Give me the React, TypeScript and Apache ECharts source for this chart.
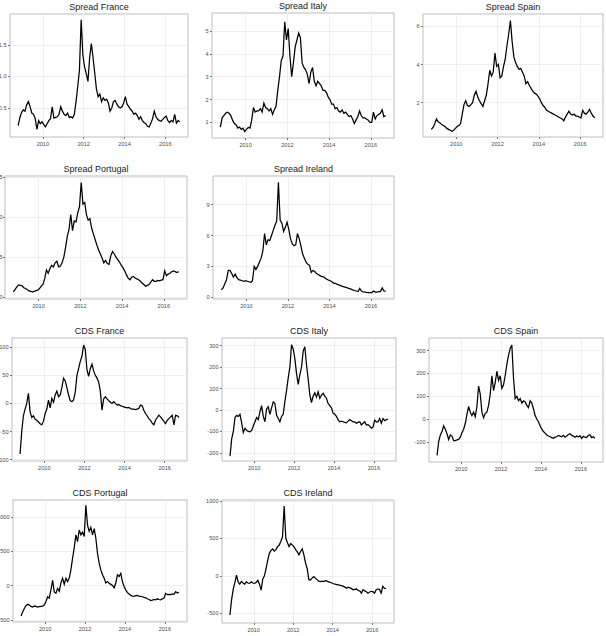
import React, { useEffect, useRef } from "react";
import * as echarts from "echarts";

// Monthly observations, Oct 2008 .. Sep 2016 (96 months)
const START_YEAR = 2008;
const START_MONTH = 10;
const xTicks = [2010, 2012, 2014, 2016];

const spreadFrance = [
  0.22, 0.35, 0.43,
  0.47, 0.45, 0.55, 0.6, 0.52, 0.42, 0.4, 0.33, 0.16, 0.3, 0.25, 0.28,
  0.24, 0.2, 0.25, 0.3, 0.33, 0.52, 0.34, 0.35, 0.36, 0.4, 0.52, 0.45,
  0.4, 0.38, 0.42, 0.35, 0.36, 0.34, 0.4, 0.6, 0.84, 1.1, 1.9, 1.35,
  1.15, 1.05, 0.92, 1.3, 1.52, 1.3, 1.05, 0.8, 0.68, 0.72, 0.6, 0.66,
  0.62, 0.64, 0.58, 0.45, 0.5, 0.6, 0.62, 0.56, 0.52, 0.5, 0.52, 0.58,
  0.68, 0.56, 0.52, 0.48, 0.45, 0.4, 0.42, 0.38, 0.32, 0.36, 0.3, 0.27,
  0.25, 0.21, 0.2, 0.26, 0.33, 0.45, 0.36, 0.32, 0.3, 0.29, 0.32, 0.35,
  0.37, 0.3, 0.27, 0.3, 0.28, 0.4, 0.26, 0.3, 0.28,
];
const spreadItaly = [
  0.8, 1.2, 1.3,
  1.4, 1.45, 1.4, 1.3, 1.1, 0.95, 0.9, 0.75, 0.8, 0.7, 0.75, 0.6,
  0.7, 0.78, 0.75, 1.1, 1.65, 1.45, 1.5, 1.5, 1.6, 1.45, 1.85, 1.65,
  1.6, 1.5, 1.6, 1.35, 1.55, 1.7, 2.4, 3.0, 3.7, 3.9, 5.4, 4.6,
  5.1, 3.9, 3.0, 3.6, 4.3, 4.6, 4.9, 4.7, 3.6, 3.4, 3.3, 3.1,
  2.7, 3.2, 3.4, 2.8, 2.6, 2.8, 2.7, 2.6, 2.4, 2.4, 2.3, 2.1,
  2.0, 1.8, 1.8, 1.6, 1.65, 1.5, 1.45, 1.55, 1.4, 1.45, 1.35, 1.25,
  1.3, 1.15, 0.95, 1.1, 1.25, 1.5, 1.3, 1.2, 1.2, 1.15, 1.1, 1.0,
  1.0, 1.45, 1.15, 1.3, 1.35, 1.4, 1.55, 1.25, 1.3,
];
const spreadSpain = [
  0.6, 0.7, 0.9,
  1.15, 1.0, 0.95, 0.85, 0.8, 0.75, 0.65, 0.6, 0.55, 0.5, 0.55, 0.65,
  0.75, 0.8, 0.9, 1.4, 1.9, 2.1, 1.85, 1.8, 1.9, 2.0, 2.4, 2.6,
  2.3, 2.1, 1.95, 1.8, 2.1, 2.4, 3.0, 3.7, 3.4, 3.6, 4.6, 3.9,
  4.0, 3.3, 3.4, 3.9, 4.3, 5.0, 5.6, 6.3, 5.2, 4.4, 4.1, 3.9,
  3.75, 3.8, 3.6, 3.4, 3.0, 3.1, 2.9, 2.75, 2.6, 2.5, 2.45, 2.35,
  2.2, 2.0, 1.85, 1.75, 1.6, 1.55, 1.5, 1.45, 1.4, 1.35, 1.3, 1.25,
  1.2, 1.15, 1.05, 1.25, 1.4, 1.55, 1.4, 1.35, 1.4, 1.3, 1.3, 1.25,
  1.2, 1.6, 1.45, 1.4, 1.5, 1.65, 1.45, 1.3, 1.2,
];
const spreadPortugal = [
  0.7, 1.0, 1.3,
  1.55, 1.5, 1.45, 1.2, 1.1, 0.95, 0.8, 0.75, 0.7, 0.75, 0.85, 0.9,
  1.1, 1.4, 1.6, 2.3, 3.4, 3.0, 3.6, 4.0, 3.8, 4.3, 4.5, 3.8,
  3.9, 4.3, 5.0, 6.2, 7.6, 8.5, 10.3, 8.3, 9.5, 9.4, 10.5, 11.3,
  14.3, 11.6, 11.8, 10.3, 9.6, 9.8, 8.6, 7.9, 7.2, 6.5, 5.9, 5.4,
  4.9, 4.3, 4.6, 4.2, 4.1, 5.2, 5.7, 5.4, 5.0, 4.7, 4.4, 4.0,
  3.7, 3.3, 2.8, 2.4, 2.2, 2.5, 2.6, 2.4, 2.3, 2.2, 2.0, 1.8,
  1.6, 1.4, 1.5, 1.6, 1.9, 2.2, 2.0, 2.0, 2.1, 2.05, 2.15, 2.2,
  3.3, 2.7, 2.9, 3.0, 3.2, 3.3, 3.2, 3.1, 3.2,
];
const spreadIreland = [
  0.7, 0.9, 1.3,
  1.7, 2.6, 2.6, 2.3, 1.95, 2.25, 1.9, 1.7, 1.65, 1.6, 1.55, 1.6,
  1.55, 1.5, 1.45, 1.6, 3.0, 2.7, 3.0, 3.4, 3.8, 4.5, 6.2, 5.1,
  5.6, 5.5, 6.0, 6.5, 7.0, 7.4, 11.2, 7.5, 7.2, 6.4, 6.8, 7.3,
  6.6, 5.7, 5.2, 5.0, 5.1, 6.2, 5.7, 5.0, 4.2, 3.8, 3.4, 3.2,
  3.1, 2.4, 2.6, 2.5, 2.3, 2.2, 2.1, 2.0, 2.0, 1.85, 1.75, 1.65,
  1.6, 1.5, 1.35, 1.35, 1.25, 1.2, 1.12, 1.05, 1.0, 0.95, 0.9, 0.82,
  0.78, 0.7, 0.65, 0.6, 0.55, 0.85, 0.6, 0.5, 0.48, 0.46, 0.45, 0.44,
  0.45, 0.6, 0.5, 0.5, 0.55, 0.55, 0.9, 0.6, 0.58,
];
const cdsFrance = [
  -90, -50, -22,
  -10, 0, 18, -15, -25, -22, -28, -30, -33, -36, -38, -32,
  -18, -10, 6, -8, 9, 2, 15, 22, 12, 15, 28, 45,
  40, 28, 15, 5, 3, 6, 20, 50, 62, 75, 84, 104,
  96, 60, 48, 62, 70, 58, 50, 45, 38, 22, -12, 8,
  12, 8, 5, 2, 0, 3, 0, -3, -2, -4, -5, -6,
  -7, -8, -7, -9, -10, -10, -11, -10, -9, -3, -4, -12,
  -18, -22, -27, -30, -35, -38, -30, -25, -21, -24, -28, -32,
  -36, -30, -27, -24, -21, -38, -21, -22, -25,
];
const cdsItaly = [
  -215, -135, -100,
  -35, -25, -30, -20, -60, -105, -85, -95, -100, -102, -95, -75,
  -55, -35, -45, -8, 20, -30, -55, 5, 15, -20, 10, 38,
  30, -25, -40, -55, -30, -20, 40, 90, 150, 200, 305, 285,
  240, 170, 120, 165, 200, 275, 295, 210, 145, 70, 35, 65,
  80, 60, 85, 55, 70, 78, 65, 55, 30, 20, 10, -15,
  -20, -30, -45, -55, -52, -55, -58, -60, -52, -45, -50, -55,
  -55, -62, -58, -55, -70, -62, -55, -70, -68, -75, -85, -80,
  -48, -55, -55, -40, -62, -40, -50, -45, -42,
];
const cdsSpain = [
  -160, -100, -70,
  -55, -30, -45, -65, -90, -70, -75, -95, -95, -92, -90, -80,
  -60, -45, -20, 20, 55, 30, 15, 30, 10, 55, 145, 110,
  30, 5, 25, 30, 60, 110, 190, 125, 160, 210, 170, 190,
  135, 150, 190, 240, 280, 310, 325, 180, 90, 100, 80, 90,
  70, 80, 75, 60, 50, 80, 70, 45, 15, 0, -12, -30,
  -45, -55, -62, -70, -75, -78, -82, -85, -80, -78, -72, -75,
  -78, -72, -80, -75, -68, -65, -72, -75, -80, -75, -78, -74,
  -85, -76, -80, -82, -72, -70, -82, -78, -85,
];
const cdsPortugal = [
  -440, -380, -330,
  -290, -270, -280, -300, -310, -295, -300, -310, -305, -300, -295, -280,
  -230, -160, -180, -60, 80, -90, -110, -40, -80, 40, 110, 20,
  110, 60, 110, 230, 400, 550, 740, 640, 810, 740, 780, 715,
  1170, 880, 790, 850, 740, 830, 690, 470, 330, 230, 160, 110,
  40, 60, 35, 20, 5, -30, 40, 160, 135, 180, 60, -10,
  -60, -100, -120, -140, -150, -155, -145, -140, -150, -155, -160, -170,
  -175, -190, -200, -215, -210, -200, -205, -190, -200, -205, -190, -180,
  -110, -130, -125, -130, -120, -125, -85, -105, -95,
];
const cdsIreland = [
  -520, -320, -180,
  -90, 10, -80, -110, -75, -95, -110, -80, -95, -100, -80, -95,
  -100, -85, -60, -110, -190, -40, 0, 100, 210, 300, 340, 360,
  330, 350, 390, 410, 460, 520, 930, 500, 440, 390, 430, 410,
  385, 350, 320, 280, 325, 360, 280, 170, 100, -50, -55, -30,
  -10, -30, -50, -70, -75, -70, -75, -65, -70, -80, -85, -95,
  -105, -110, -115, -120, -125, -130, -140, -150, -165, -150, -160, -170,
  -185, -180, -175, -195, -200, -230, -185, -200, -210, -230, -215, -205,
  -210, -230, -185, -175, -180, -230, -140, -165, -170,
];

type Panel = {
  title: string;
  data: number[];
  yTicks: number[];
  yMin: number;
  yMax: number;
  decimals: number;
  labelMargin: number;
  box: [number, number, number, number]; // left, top, width, height
};

const panels: Panel[] = [
  { title: "Spread France", data: spreadFrance, yTicks: [0.5, 1, 1.5], yMin: 0.04, yMax: 1.99, decimals: 1, labelMargin: 3.5, box: [10, 14, 178, 123] },
  { title: "Spread Italy", data: spreadItaly, yTicks: [1, 2, 3, 4, 5], yMin: 0.32, yMax: 5.78, decimals: 0, labelMargin: 3.5, box: [212, 13, 182, 125] },
  { title: "Spread Spain", data: spreadSpain, yTicks: [2, 4, 6], yMin: 0.2, yMax: 6.65, decimals: 0, labelMargin: 3.5, box: [423, 14, 180, 123] },
  { title: "Spread Portugal", data: spreadPortugal, yTicks: [0, 5, 10, 15], yMin: -0.2, yMax: 15.1, decimals: 0, labelMargin: 2.5, box: [5, 176, 182, 123] },
  { title: "Spread Ireland", data: spreadIreland, yTicks: [0, 3, 6, 9], yMin: -0.18, yMax: 11.8, decimals: 0, labelMargin: 3.5, box: [213, 176, 181, 123] },
  { title: "CDS France", data: cdsFrance, yTicks: [-100, -50, 0, 50, 100], yMin: -102.5, yMax: 116.5, decimals: 0, labelMargin: 3.5, box: [12, 338, 175, 123] },
  { title: "CDS Italy", data: cdsItaly, yTicks: [-200, -100, 0, 100, 200, 300], yMin: -238, yMax: 336, decimals: 0, labelMargin: 3.5, box: [222, 338, 174, 123] },
  { title: "CDS Spain", data: cdsSpain, yTicks: [-100, 0, 100, 200, 300], yMin: -189, yMax: 356, decimals: 0, labelMargin: 3.5, box: [429, 338, 174, 124] },
  { title: "CDS Portugal", data: cdsPortugal, yTicks: [-500, 0, 500, 1000], yMin: -527, yMax: 1246, decimals: 0, labelMargin: 3.5, box: [13, 500, 174, 122] },
  { title: "CDS Ireland", data: cdsIreland, yTicks: [-500, 0, 500, 1000], yMin: -627, yMax: 1010, decimals: 0, labelMargin: 3.5, box: [222, 500, 172, 123] },
];

const X_MIN = 2008.39;
const X_MAX = 2017.11;
const FONT = "Liberation Sans, Arial, sans-serif";

function monthToYear(i: number) {
  return START_YEAR + (START_MONTH - 1 + i + 0.5) / 12;
}

export default function App() {
  const ref = useRef<HTMLDivElement>(null);
  useEffect(() => {
    if (!ref.current) return;
    const chart = echarts.init(ref.current, undefined, { renderer: "svg" });
    const grid: any[] = [];
    const xAxis: any[] = [];
    const yAxis: any[] = [];
    const series: any[] = [];
    const graphic: any[] = [];
    panels.forEach((p, k) => {
      const [left, top, width, height] = p.box;
      grid.push({
        left, top, width, height,
        show: true, borderColor: "#bdbdbd", borderWidth: 1, backgroundColor: "#ffffff",
        containLabel: false, outerBoundsMode: "none",
      });
      xAxis.push({
        type: "value",
        gridIndex: k,
        min: X_MIN,
        max: X_MAX,
        axisLine: { show: false, onZero: false },
        axisTick: { show: true, length: 2, lineStyle: { color: "#555", width: 0.8 }, customValues: xTicks },
        axisLabel: { customValues: xTicks, fontSize: 5.6, color: "#4d4d4d", margin: 4, fontFamily: FONT, formatter: (v: number) => String(Math.round(v)) },
        splitLine: { show: true, lineStyle: { color: "#ebebeb", width: 0.8 } },
      });
      yAxis.push({
        type: "value",
        gridIndex: k,
        min: p.yMin,
        max: p.yMax,
        axisLine: { show: false, onZero: false },
        axisTick: { show: true, length: 2, lineStyle: { color: "#555", width: 0.8 }, customValues: p.yTicks },
        axisLabel: {
          customValues: p.yTicks,
          fontSize: 5.6,
          color: "#4d4d4d",
          margin: p.labelMargin,
          fontFamily: FONT,
          formatter: (v: number) => (p.decimals ? v.toFixed(p.decimals) : String(Math.round(v))),
        },
        splitLine: { show: true, lineStyle: { color: "#ebebeb", width: 0.8 } },
      });
      series.push({
        type: "line",
        xAxisIndex: k,
        yAxisIndex: k,
        data: p.data.map((v, i) => [monthToYear(i), v]),
        showSymbol: false,
        symbol: "none",
        lineStyle: { color: "#000000", width: 1.25, join: "miter" },
        clip: true,
      });
      graphic.push({
        type: "text",
        x: left + width / 2,
        y: top - 7,
        style: {
          text: p.title,
          fill: "#222222",
          fontSize: 9,
          fontWeight: "normal",
          fontFamily: FONT,
          textAlign: "center",
          textVerticalAlign: "middle",
        },
      });
    });
    chart.setOption({
      animation: false,
      backgroundColor: "#ffffff",
      grid,
      xAxis,
      yAxis,
      series,
      graphic,
    });
    return () => chart.dispose();
  }, []);
  return (
    <div
      ref={ref}
      style={{ position: "absolute", left: 0, top: 0, width: 606, height: 636 }}
    />
  );
}
